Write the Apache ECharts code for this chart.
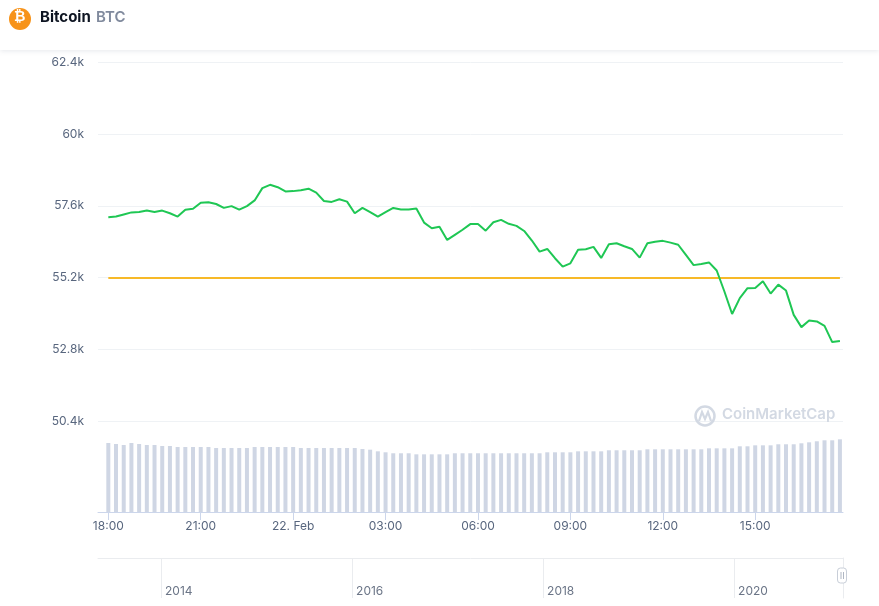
<!DOCTYPE html>
<html>
<head>
<meta charset="utf-8">
<script src="https://cdn.jsdelivr.net/npm/echarts@6/dist/echarts.min.js"></script>
<style>
html,body{margin:0;padding:0;background:#fff;}
#chart{width:879px;height:606px;}
</style>
</head>
<body>
<div id="chart"></div>
<script>
// hours since 18:00, one point every 15 minutes
const hours = Array.from({length: 96}, (_, i) => i * 0.25);
const timeTicks = [0, 3, 6, 9, 12, 15, 18, 21];
const timeLabels = ["18:00", "21:00", "22. Feb", "03:00", "06:00", "09:00", "12:00", "15:00"];
const price = [
  57220, 57240, 57310, 57380, 57390, 57440, 57390, 57440, 57350, 57240,
  57470, 57500, 57700, 57720, 57660, 57530, 57590, 57470, 57590, 57780,
  58190, 58300, 58220, 58080, 58090, 58120, 58170, 58040, 57760, 57730,
  57820, 57740, 57350, 57530, 57390, 57240, 57390, 57530, 57480, 57480,
  57510, 57040, 56850, 56900, 56460, 56630, 56800, 56990, 56990, 56770,
  57050, 57130, 57000, 56930, 56760, 56440, 56070, 56160, 55850, 55570,
  55680, 56130, 56150, 56230, 55860, 56320, 56350, 56250, 56160, 55870,
  56350, 56400, 56430, 56370, 56300, 55960, 55620, 55660, 55710, 55440,
  54740, 53990, 54520, 54850, 54860, 55080, 54670, 54970, 54770, 53960,
  53550, 53770, 53740, 53590, 53050, 53090
];
const volume = [
  92.0, 90.7, 89.3, 92.0, 90.7, 89.3, 89.3, 88.0, 88.0, 86.7,
  86.7, 86.7, 86.7, 86.7, 85.3, 85.3, 85.3, 85.3, 85.3, 86.7,
  86.7, 86.7, 86.7, 86.7, 86.7, 85.3, 85.3, 85.3, 85.3, 85.3,
  85.3, 85.3, 85.3, 84.0, 83.1, 80.9, 79.6, 78.3, 78.3, 78.3,
  76.9, 76.9, 76.9, 76.9, 76.9, 78.3, 78.3, 78.3, 78.3, 78.3,
  78.3, 78.3, 78.3, 78.3, 78.3, 78.3, 78.3, 79.6, 79.6, 79.6,
  79.6, 80.9, 80.9, 80.9, 80.9, 82.3, 82.3, 82.3, 82.3, 82.3,
  83.6, 83.6, 83.6, 83.6, 83.6, 83.6, 83.6, 83.6, 84.9, 84.9,
  84.9, 84.9, 87.6, 87.6, 88.9, 88.9, 88.9, 90.3, 90.3, 90.3,
  91.6, 92.9, 94.3, 95.6, 95.6, 96.9
];
const openPrice = 55185;
const priceTicks = {min: 50400, max: 62400, step: 2400};
const navYears = [2014, 2016, 2018, 2020];
const navRange = {min: 2013.34, max: 2021.14};
const xRange = {min: -0.335, max: 23.85};

const labelColor = '#58667e';
const font = 'Inter, "Noto Sans", sans-serif';

const chart = echarts.init(document.getElementById('chart'), null, {renderer: 'canvas'});
chart.setOption({
  animation: false,
  backgroundColor: '#ffffff',
  textStyle: {fontFamily: font},
  grid: [
    {left: 98, right: 36, top: 62, height: 359.5},
    {left: 98, right: 36, top: 422, height: 90},
    {left: 98, right: 36, top: 558, height: 40}
  ],
  xAxis: [
    {type: 'value', gridIndex: 0, min: xRange.min, max: xRange.max,
     axisLine: {show: false}, axisTick: {show: false}, axisLabel: {show: false}, splitLine: {show: false}},
    {type: 'value', gridIndex: 1, min: xRange.min, max: xRange.max,
     axisLine: {show: true, lineStyle: {color: '#ccd6eb', width: 1}},
     axisTick: {show: true, customValues: timeTicks, length: 8, lineStyle: {color: '#ccd6eb'}},
     axisLabel: {show: true, customValues: timeTicks, color: labelColor, fontSize: 12, margin: 8,
       formatter: v => timeLabels[timeTicks.indexOf(Math.round(v))] || ''},
     splitLine: {show: false}},
    {type: 'value', gridIndex: 2, min: navRange.min, max: navRange.max, position: 'bottom',
     axisLine: {show: false},
     axisTick: {show: true, customValues: navYears, inside: true, length: 40, lineStyle: {color: '#eaecef'}},
     axisLabel: {show: true, customValues: navYears, inside: true, align: 'left', margin: 1,
       padding: [0, 0, 0, 4], color: '#6b7587', fontSize: 12, formatter: v => String(Math.round(v))},
     splitLine: {show: false}},
    {type: 'value', gridIndex: 2, min: navRange.min, max: navRange.max, position: 'top',
     axisLine: {show: true, onZero: false, lineStyle: {color: '#eaecef'}},
     axisTick: {show: false}, axisLabel: {show: false}, splitLine: {show: false}}
  ],
  yAxis: [
    {type: 'value', gridIndex: 0, min: priceTicks.min, max: priceTicks.max, interval: priceTicks.step,
     axisLine: {show: false}, axisTick: {show: false},
     axisLabel: {color: labelColor, fontSize: 12, margin: 14,
       formatter: v => (v / 1000) + 'k'},
     splitLine: {show: true, lineStyle: {color: '#eff2f5', width: 1}}},
    {type: 'value', gridIndex: 1, min: 0, max: 120,
     axisLine: {show: false}, axisTick: {show: false}, axisLabel: {show: false}, splitLine: {show: false}},
    {type: 'value', gridIndex: 2, min: 0, max: 1, position: 'right',
     axisLine: {show: true, lineStyle: {color: '#eaecef'}},
     axisTick: {show: false}, axisLabel: {show: false}, splitLine: {show: false}}
  ],
  series: [
    {type: 'bar', xAxisIndex: 1, yAxisIndex: 1, barWidth: 4,
     itemStyle: {color: '#cfd6e4'},
     data: hours.map((h, i) => [h, volume[i]])},
    {type: 'line', xAxisIndex: 0, yAxisIndex: 0, showSymbol: false, symbol: 'none',
     lineStyle: {color: '#1fc754', width: 2}, z: 5,
     data: hours.map((h, i) => [h, price[i]]),
     markLine: {silent: true, symbol: 'none', label: {show: false},
       lineStyle: {color: '#f7b928', width: 2, type: 'solid'},
       data: [[{coord: [hours[0], openPrice]}, {coord: [hours[hours.length - 1], openPrice]}]]}}
  ],
  graphic: [
    {type: 'rect', left: 0, top: 0, z: 0, shape: {width: 879, height: 50},
     style: {fill: '#ffffff', shadowBlur: 5, shadowColor: 'rgba(88,102,126,0.15)', shadowOffsetY: 1}},
    {type: 'circle', z: 2, shape: {cx: 20, cy: 19, r: 11}, style: {fill: '#f7931a'}},
    {type: 'text', z: 3, left: 14, top: 10,
     style: {text: '₿', fill: '#ffffff', font: 'bold 14px "DejaVu Sans", sans-serif'}},
    {type: 'text', z: 3, left: 40, top: 10,
     style: {text: 'Bitcoin', fill: '#0d1421', font: 'bold 15px ' + font}},
    {type: 'text', z: 3, left: 96, top: 10,
     style: {text: 'BTC', fill: '#808a9d', font: '600 15px ' + font}},
    {type: 'circle', z: 1, shape: {cx: 705, cy: 416, r: 9.5},
     style: {fill: 'none', stroke: '#d3d9e3', lineWidth: 2.5}},
    {type: 'polyline', z: 1, shape: {points: [[699, 421], [702, 412], [705, 419], [708, 412], [711, 421]]},
     style: {fill: 'none', stroke: '#d3d9e3', lineWidth: 2.2}},
    {type: 'text', z: 1, left: 722, top: 407,
     style: {text: 'CoinMarketCap', fill: '#d3d9e3', font: '600 15px ' + font}},
    {type: 'rect', z: 10, shape: {x: 837.5, y: 568, width: 9, height: 15, r: 3},
     style: {fill: '#ffffff', stroke: '#c8ced8', lineWidth: 1}},
    {type: 'line', z: 11, shape: {x1: 841, y1: 572, x2: 841, y2: 579}, style: {stroke: '#b0b7c3', lineWidth: 1}},
    {type: 'line', z: 11, shape: {x1: 843.5, y1: 572, x2: 843.5, y2: 579}, style: {stroke: '#b0b7c3', lineWidth: 1}}
  ]
});
</script>
</body>
</html>
